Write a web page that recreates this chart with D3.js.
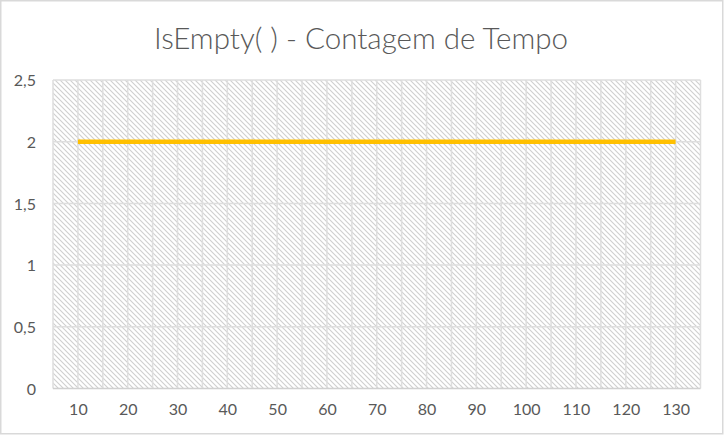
<!DOCTYPE html>
<html>
<head>
<meta charset="utf-8">
<script src="https://cdn.jsdelivr.net/npm/d3@7"></script>
<style>
  html, body { margin: 0; padding: 0; background: #fff; }
  svg { display: block; }
  text { font-family: Lato, "Open Sans", sans-serif; fill: #595959; }
</style>
</head>
<body>
<svg id="chart" width="724" height="436"></svg>
<script>
const categories = [10, 20, 30, 40, 50, 60, 70, 80, 90, 100, 110, 120, 130];
const values = [2, 2, 2, 2, 2, 2, 2, 2, 2, 2, 2, 2, 2];
const yTicks = [0, 0.5, 1, 1.5, 2, 2.5];
const yTickLabels = ["0", "0,5", "1", "1,5", "2", "2,5"];
const title = "IsEmpty( ) - Contagem de Tempo";

const plot = { left: 53, top: 80, right: 700.5, bottom: 388.5 };
const svg = d3.select("#chart");

// outer frame
svg.append("rect").attr("x", 0.75).attr("y", 0.75).attr("width", 722).attr("height", 433)
  .attr("fill", "#fff").attr("stroke", "#d9d9d9").attr("stroke-width", 1.5);

// hatch pattern (wide downward diagonal)
const defs = svg.append("defs");
const pat = defs.append("pattern").attr("id", "hatch").attr("patternUnits", "userSpaceOnUse")
  .attr("width", 5).attr("height", 5);
pat.append("rect").attr("width", 5).attr("height", 5).attr("fill", "#fff");
pat.append("path").attr("d", "M-1,-1 L6,6 M-1,4 L1,6 M4,-1 L6,1")
  .attr("stroke", "#cfcfcf").attr("stroke-width", 1.1);

const band = d3.scaleBand().domain(categories).range([plot.left, plot.right]);
const x = d3.scalePoint().domain(categories).range([plot.left, plot.right]).padding(0.5);
const y = d3.scaleLinear().domain([0, 2.5]).range([plot.bottom, plot.top]);

svg.append("rect").attr("x", plot.left).attr("y", plot.top)
  .attr("width", plot.right - plot.left).attr("height", plot.bottom - plot.top)
  .attr("fill", "url(#hatch)");

// vertical gridlines: at category boundaries and centers
const vlines = [];
categories.forEach(c => { vlines.push(band(c)); vlines.push(x(c)); });
vlines.push(plot.right);
svg.append("g").selectAll("line").data(vlines).join("line")
  .attr("x1", d => d).attr("x2", d => d).attr("y1", plot.top).attr("y2", plot.bottom)
  .attr("stroke", "#dedede").attr("stroke-width", 1.5);

// horizontal gridlines
svg.append("g").selectAll("line").data(yTicks).join("line")
  .attr("x1", plot.left).attr("x2", plot.right).attr("y1", d => y(d)).attr("y2", d => y(d))
  .attr("stroke", d => d === 0 ? "#d0d0d0" : "#dedede").attr("stroke-width", 1.5);

// y axis labels
const yAxis = d3.axisLeft(y).tickValues(yTicks).tickFormat((d, i) => yTickLabels[i]).tickSize(0).tickPadding(0);
const gy = svg.append("g").attr("transform", `translate(${36},0)`).call(yAxis);
gy.select(".domain").remove();
gy.selectAll("text").attr("font-size", 16).attr("fill", "#595959").attr("dy", "0.35em")
  .style("font-family", "Lato, 'Open Sans', sans-serif");

// x axis labels
const xAxis = d3.axisBottom(x).tickSize(0).tickPadding(0);
const gx = svg.append("g").attr("transform", `translate(0,${404})`).call(xAxis);
gx.select(".domain").remove();
gx.selectAll("text").attr("font-size", 16).attr("fill", "#595959").attr("dy", "0.71em")
  .style("font-family", "Lato, 'Open Sans', sans-serif");

// line
const line = d3.line().x((d, i) => x(categories[i])).y(d => y(d));
svg.append("path").datum(values).attr("d", line)
  .attr("fill", "none").attr("stroke", "#FFC000").attr("stroke-width", 4.5).attr("stroke-linecap", "butt");

// title
svg.append("text").attr("x", 361).attr("y", 48.5).attr("text-anchor", "middle")
  .attr("font-size", 30).attr("font-weight", 300)
  .attr("textLength", 414).attr("lengthAdjust", "spacingAndGlyphs")
  .style("font-family", "Lato, 'Open Sans', sans-serif")
  .attr("fill", "#595959").text(title);
</script>
</body>
</html>
